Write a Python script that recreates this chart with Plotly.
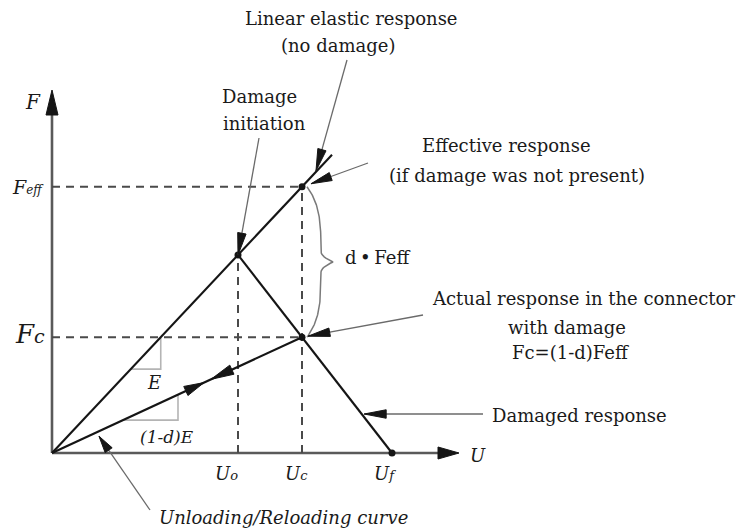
import numpy as np
import plotly.graph_objects as go

# ---- connector damage model (U = displacement, F = force) ----
E = 1.065            # undamaged stiffness
d = 0.565            # current damage variable
U_o = 3.72           # displacement at damage initiation
U_c = 5.0            # current displacement
U_f = 6.8            # displacement at full failure
U_elastic_end = 5.6  # extent of the drawn undamaged elastic line

F_o = E * U_o                 # force at damage initiation
F_eff = E * U_c               # effective (undamaged) force
F_c = (1 - d) * F_eff         # actual force in the connector
E_d = (1 - d) * E             # degraded unloading/reloading stiffness

# axis extents of the sketch
U_axis_end = 8.14
F_axis_end = 7.26

FONT = "DejaVu Serif"
TXT = "#1a1a1a"
INK = "#151515"
AXIS = "#5a5a5a"
DASH = "#4a4a4a"
POINTER = "#6a6a6a"
LIGHT = "#b4b4b4"
BODY = 18

fig = go.Figure()


def line(xs, ys, color=INK, width=2.0, dash=None):
    fig.add_trace(go.Scatter(
        x=list(xs), y=list(ys), mode="lines",
        line=dict(color=color, width=width, dash=dash),
        hoverinfo="skip", showlegend=False))


def head(tip, tail, length, half, color=INK):
    tip = np.asarray(tip, float)
    tail = np.asarray(tail, float)
    v = tip - tail
    v = v / np.hypot(*v)
    n = np.array([-v[1], v[0]])
    base = tip - length * v
    pts = [tip, base + half * n, base - half * n, tip]
    fig.add_trace(go.Scatter(
        x=[p[0] for p in pts], y=[p[1] for p in pts], mode="lines",
        fill="toself", fillcolor=color, line=dict(color=color, width=1),
        hoverinfo="skip", showlegend=False))


def pointer(tail, tip, length=0.44, half=0.085):
    line([tail[0], tip[0]], [tail[1], tip[1]], color=POINTER, width=1.3)
    head(tip, tail, length, half)


def label(x, y, text, size=BODY, xanchor="center", yanchor="middle"):
    fig.add_annotation(x=x, y=y, text=text, showarrow=False,
                       xanchor=xanchor, yanchor=yanchor,
                       font=dict(family=FONT, size=size, color=TXT))


# ---- axes ----
line([0, 0], [0, F_axis_end - 0.3], color=AXIS, width=2.6)
line([0, U_axis_end - 0.3], [0, 0], color=AXIS, width=2.6)
head((0, F_axis_end), (0, 0), 0.5, 0.12)
head((U_axis_end, 0), (0, 0), 0.42, 0.12)

# ---- guide (dashed) lines ----
dash_style = "8px,6px"
line([0, U_c], [F_eff, F_eff], color=DASH, width=2, dash=dash_style)
line([0, U_c], [F_c, F_c], color=DASH, width=2, dash=dash_style)
line([U_o, U_o], [0, F_o], color=DASH, width=2, dash=dash_style)
line([U_c, U_c], [0, F_eff], color=DASH, width=2, dash=dash_style)

# ---- slope triangles ----
U1 = F_c / E
run1 = 0.6
line([U1 - run1, U1, U1], [E * (U1 - run1), E * (U1 - run1), F_c], color=LIGHT, width=1.6)
U2 = 2.52
run2 = 1.1
line([U2 - run2, U2, U2], [E_d * (U2 - run2), E_d * (U2 - run2), E_d * U2], color=LIGHT, width=1.6)

# ---- response curves ----
line([0, U_elastic_end], [0, E * U_elastic_end], width=2.1)      # linear elastic
line([U_o, U_f], [F_o, 0], width=2.1)                            # damaged response
line([0, U_c], [0, F_c], width=2.1)                              # unloading / reloading

# loading / unloading arrows along the degraded stiffness line
ua, ub = 3.04, 3.18
head((ua, E_d * ua), (0, 0), 0.4, 0.1)
head((ub, E_d * ub), (U_c, F_c), 0.46, 0.1)

# ---- brace marking d*Feff ----
bx = U_c + 0.1
a, b = 0.28, 0.24
s = np.linspace(0, 1, 60)
off = a * (1 - (1 - s) ** 4) + b * np.clip(1 - (1 - s) / 0.14, 0, None) ** 2
half_h = (F_eff - F_c) / 2
top_y = F_eff - s * half_h
bot_y = F_c + s * half_h
brace_x = np.concatenate([bx + off, (bx + off)[::-1]])
brace_y = np.concatenate([top_y, bot_y[::-1]])
line(brace_x, brace_y, color="#7a7a7a", width=1.5)

# ---- state points ----
fig.add_trace(go.Scatter(
    x=[U_o, U_c, U_c, U_f], y=[F_o, F_eff, F_c, 0], mode="markers",
    marker=dict(color=INK, size=7), hoverinfo="skip", showlegend=False))

# ---- pointers to the annotated features ----
pointer((5.90, 7.86), (5.28, E * 5.28 + 0.02))                       # linear elastic
pointer((6.32, 5.80), (U_c + 0.18, F_eff + 0.06), 0.42)              # effective response
pointer((4.14, 6.30), (U_o, F_o))                                    # damage initiation
pointer((7.42, 2.76), (U_c + 0.12, F_c + 0.02))                      # actual response
y_dr = 0.78
pointer((8.62, y_dr), (U_f - y_dr * (U_f - U_o) / F_o + 0.05, y_dr))  # damaged response
pointer((1.96, -1.14), (0.94, E_d * 0.94 - 0.1), 0.34)                # unloading curve

# ---- text ----
label(5.98, 8.70, "Linear elastic response")
label(5.72, 8.16, "(no damage)")
label(4.14, 7.14, "Damage")
label(4.24, 6.60, "initiation")
label(9.08, 6.16, "Effective response")
label(9.30, 5.56, "(if damage was not present)")
label(5.82, 3.92, "d\u2009\u2022\u2009Feff", xanchor="left")
label(13.70, 3.10, "Actual response in the connector", xanchor="right")
label(10.30, 2.52, "with damage")
label(10.36, 2.02, "Fc=(1-d)Feff")
label(8.76, 0.76, "Damaged response", xanchor="left")
label(2.10, -1.28, "<i>Unloading/Reloading curve</i>", xanchor="left")

label(-0.38, 7.02, "<i>F</i>", size=20)
label(-0.12, F_eff, "<i>F<span style='font-size:12px'>eff</span></i>", size=19, xanchor="right")
label(-0.10, F_c + 0.06, "<i>F<span style='font-size:19px'>c</span></i>", size=26, xanchor="right")
label(U_o - 0.24, -0.40, "<i>U<span style='font-size:13px'>o</span></i>", size=18)
label(U_c - 0.12, -0.40, "<i>U<span style='font-size:13px'>c</span></i>", size=18)
label(U_f - 0.14, -0.40, "<i>U<span style='font-size:13px'>f</span></i>", size=18)
label(U_axis_end + 0.18, -0.04, "<i>U</i>", size=18, xanchor="left")
label(2.04, 1.42, "<i>E</i>", size=18)
label(2.3, 0.32, "<i>(1-d)E</i>", size=17)

fig.update_layout(
    width=738, height=528,
    margin=dict(l=0, r=0, t=0, b=0),
    paper_bgcolor="white", plot_bgcolor="white",
    xaxis=dict(range=[-1.04, 13.72], visible=False, fixedrange=True),
    yaxis=dict(range=[-1.5, 9.06], visible=False, fixedrange=True),
)

fig.write_html("out.html")
